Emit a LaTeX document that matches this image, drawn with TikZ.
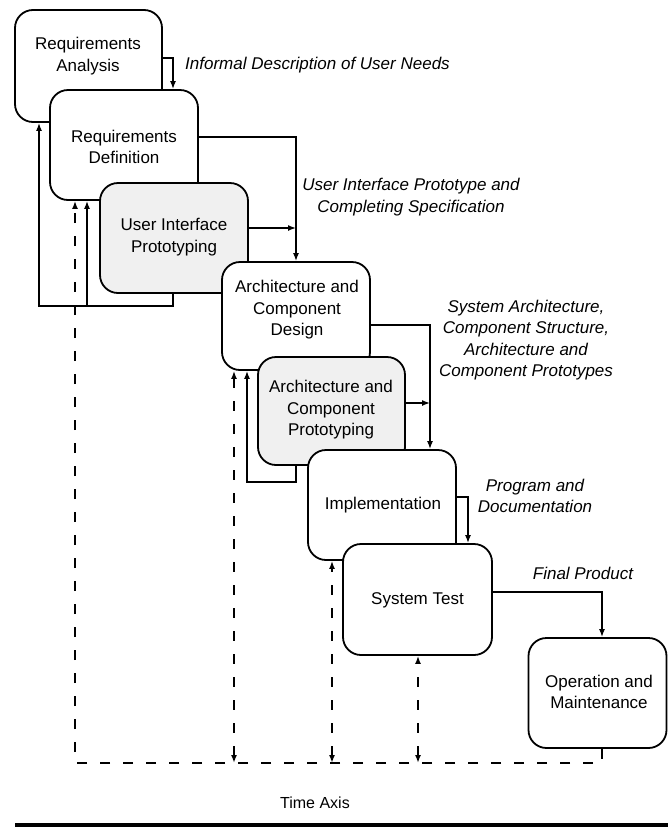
\documentclass[tikz,border=0pt]{standalone}
\usepackage{fontspec}
\setmainfont{Liberation Sans}
\usetikzlibrary{arrows.meta}
\begin{document}
\begin{tikzpicture}[x=1pt,y=-1pt,
  box/.style={draw=black, line width=1.8pt, rounded corners=18pt, fill=white, inner sep=0pt},
  gbox/.style={box, fill=black!6},
  btext/.style={font=\fontsize{17}{21.5}\selectfont, align=center, inner sep=0pt},
  lbl/.style={font=\fontsize{17}{21.5}\selectfont\itshape, align=center, inner sep=0pt},
  conn/.style={line width=1.4pt, -{Latex[length=8pt,width=6pt]}},
  plain/.style={line width=1.4pt},
  dconn/.style={line width=1.8pt, dash pattern=on 10pt off 13pt},
  tip/.style={-{Latex[length=8pt,width=6pt]}},
  tips/.style={{Latex[length=8pt,width=6pt]}-{Latex[length=8pt,width=6pt]}}
]
\useasboundingbox (0,0) rectangle (668,828);

% boxes
\node[box, minimum width=147pt, minimum height=112pt] (ra) at (88.5,66) {};
\node[btext] (rat) at (88,56) {Requirements\\Analysis};
\node[box, minimum width=148pt, minimum height=110pt] (rd) at (124,145) {};
\node[btext] (rdt) at (124,147) {Requirements\\Definition};
\node[gbox, minimum width=148pt, minimum height=110pt] (uip) at (174,238) {};
\node[btext] (uipt) at (174,237) {User Interface\\Prototyping};
\node[box, minimum width=148pt, minimum height=108pt] (acd) at (296,316) {};
\node[btext] (acdt) at (297,310) {Architecture and\\Component\\Design};
\node[gbox, minimum width=147pt, minimum height=108pt] (acp) at (331.5,411) {};
\node[btext] (acpt) at (331,410) {Architecture and\\Component\\Prototyping};
\node[box, minimum width=148pt, minimum height=110pt] (impl) at (382,505) {};
\node[btext] (implt) at (383,505) {Implementation};
\node[box, minimum width=149pt, minimum height=111pt] (st) at (417.5,599.5) {};
\node[btext] (stt) at (417.5,600) {System Test};
\node[box, minimum width=138pt, minimum height=110pt] (om) at (597.5,693) {};
\node[btext] (omt) at (599,692) {Operation and\\Maintenance};

% bend coordinates
\coordinate (a1) at (173,58);
\coordinate (b1) at (296,137);
\coordinate (b2) at (296,228);
\coordinate (c1) at (430,325);
\coordinate (c2) at (430,403);
\coordinate (d1) at (468,497);
\coordinate (e1) at (602,592);
\coordinate (f1) at (173,306);
\coordinate (f2) at (39,306);
\coordinate (f3) at (87,306);
\coordinate (g1) at (296,482);
\coordinate (g2) at (247,482);
\coordinate (h0) at (75,763);
\coordinate (h1) at (234,763);
\coordinate (h2) at (332,763);
\coordinate (h3) at (418,763);
\coordinate (h5) at (602,763);
\coordinate (t1) at (15,825);
\coordinate (t2) at (668,825);

% forward connectors
\draw[conn] (ra.east |- a1) -| (rd.north -| a1);
\draw[conn] (rd.east |- b1) -| (acd.north -| b1);
\draw[conn] (uip.east |- b2) -- (b2);
\draw[conn] (acd.east |- c1) -| (impl.north -| c1);
\draw[conn] (acp.east |- c2) -- (c2);
\draw[conn] (impl.east |- d1) -| (st.north -| d1);
\draw[conn] (st.east |- e1) -| (om.north -| e1);

% feedback connectors
\draw[conn] (uip.south -| f1) -- (f1) -- (f2) -- (ra.south -| f2);
\draw[conn] (f3) -- (rd.south -| f3);
\draw[conn] (acp.south -| g1) -- (g1) -- (g2) -- (acd.south -| g2);

% dashed time lines
\draw[dconn, tip] (om.south -| h5) -- (h5) -- (h0) -- (rd.south -| h0);
\draw[dconn, tips] (h1) -- (acd.south -| h1);
\draw[dconn, tips] (h2) -- (impl.south -| h2);
\draw[dconn, tips] (h3) -- (st.south -| h3);

% labels
\node[lbl, anchor=west] (l1) at (185,65) {Informal Description of User Needs};
\node[lbl] (l2) at (411,197) {User Interface Prototype and\\Completing Specification};
\node[lbl] (l3) at (526,340) {System Architecture,\\Component Structure,\\Architecture and\\Component Prototypes};
\node[lbl] (l4) at (535,496) {Program and\\Documentation};
\node[lbl] (l5) at (583,573) {Final Product};

% time axis
\node[font=\fontsize{16}{20}\selectfont, inner sep=0pt] (ta) at (315,803) {Time Axis};
\draw[line width=4pt] (t1) -- (t2);
\end{tikzpicture}
\end{document}
